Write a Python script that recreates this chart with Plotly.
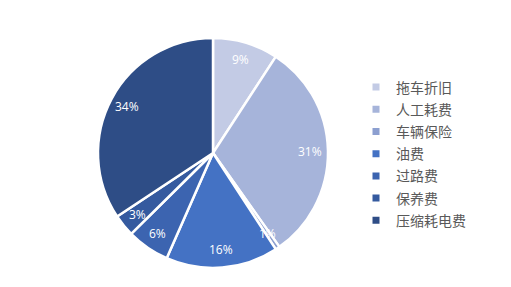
import math
import plotly.graph_objects as go

categories = ["拖车折旧", "人工耗费", "车辆保险", "油费", "过路费", "保养费", "压缩耗电费"]
values = [9.2, 31.0, 0.6, 15.8, 6.0, 3.1, 34.3]
colors = ["#c3cbe5", "#a6b4da", "#8c9fd0", "#4472c4", "#3c64b0", "#355a9f", "#2e4d86"]

W, H = 511, 287
cx, cy, r = 213, 153, 115
label_frac = 0.845

fig = go.Figure()
fig.add_trace(go.Pie(
    labels=categories,
    values=values,
    sort=False,
    direction="clockwise",
    rotation=0,
    marker=dict(colors=colors, line=dict(color="white", width=2.5)),
    textinfo="none",
    showlegend=False,
    domain=dict(x=[(cx - r) / W, (cx + r) / W], y=[(H - cy - r) / H, (H - cy + r) / H]),
    hoverinfo="label+percent",
))

# legend entries as separate traces so spacing can be controlled
for name, col in zip(categories, colors):
    fig.add_trace(go.Scatter(
        x=[None], y=[None], mode="markers", name=name,
        marker=dict(symbol="square", size=7, color=col),
        legendgroup=name, showlegend=True, hoverinfo="skip",
    ))

# percent labels positioned from the data's cumulative angles
total = sum(values)
cum = 0.0
annotations = []
for v in values:
    mid = (cum + v / 2) / total * 2 * math.pi
    cum += v
    px = cx + label_frac * r * math.sin(mid)
    py = cy - label_frac * r * math.cos(mid)
    annotations.append(dict(
        x=px / W, y=(H - py) / H, xref="paper", yref="paper",
        text=f"{round(v / total * 100)}%", showarrow=False,
        font=dict(color="white", size=12, family="Open Sans"),
        xanchor="center", yanchor="middle",
    ))

fig.update_layout(
    width=W, height=H,
    margin=dict(l=0, r=0, t=0, b=0),
    paper_bgcolor="white",
    plot_bgcolor="white",
    xaxis=dict(visible=False),
    yaxis=dict(visible=False),
    annotations=annotations,
    legend=dict(
        x=356 / W, y=(H - 154) / H, xanchor="left", yanchor="middle",
        font=dict(size=14, color="#595959", family="Noto Sans CJK SC"),
        itemwidth=30,
        traceorder="grouped",
        tracegroupgap=1,
        bgcolor="rgba(0,0,0,0)",
    ),
)

fig.write_html("out.html", config={"displayModeBar": False},
               post_script="document.body.style.margin='0';")
